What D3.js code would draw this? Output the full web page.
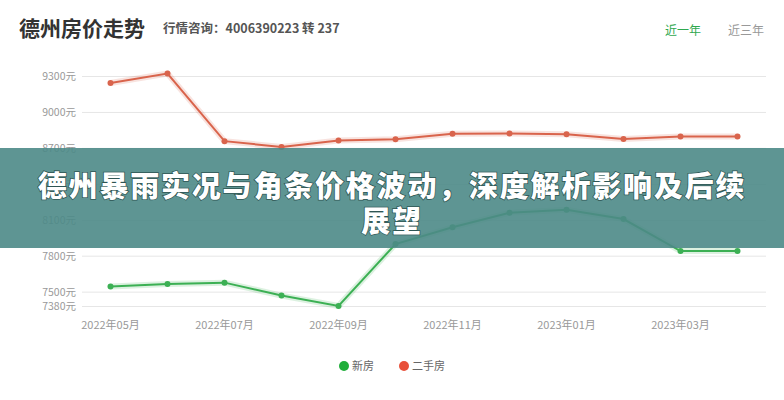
<!DOCTYPE html>
<html><head><meta charset="utf-8">
<script src="https://cdn.jsdelivr.net/npm/d3@7"></script>
<style>
html,body{margin:0;padding:0;background:#fff;}
svg{display:block;font-family:"Noto Sans CJK SC","Noto Sans",sans-serif;}
</style></head>
<body><svg id="c" width="784" height="400"></svg>
<script>
const months = ["2022年05月","2022年06月","2022年07月","2022年08月","2022年09月","2022年10月","2022年11月","2022年12月","2023年01月","2023年02月","2023年03月","2023年04月"];
const xTickLabels = ["2022年05月","2022年07月","2022年09月","2022年11月","2023年01月","2023年03月"];
const newHouse = [7542, 7564, 7575, 7467, 7381, 7897, 8037, 8158, 8183, 8106, 7839, 7839];
const secondHand = [9242, 9320, 8756, 8708, 8762, 8772, 8818, 8820, 8814, 8775, 8795, 8795];
const yTicks = [7380, 7500, 7800, 8100, 8400, 8700, 9000, 9300];
const seriesNames = ["新房", "二手房"];
const seriesColors = ["#3cb054", "#d9644c"];
const legendColors = ["#1fae3a", "#e8503a"];
const bannerLines = ["德州暴雨实况与角条价格波动，深度解析影响及后续", "展望"];

const svg = d3.select("#c");
const x = d3.scaleBand().domain(months).range([82, 766]);
const y = d3.scaleLinear().domain([7380, 9300]).range([306, 76]);

// title
svg.append("text").attr("x", 19).attr("y", 36).attr("font-size", 21).attr("font-weight", 700)
  .attr("fill", "#333").text("德州房价走势");
svg.append("text").attr("x", 163).attr("y", 33).attr("font-size", 12.5).attr("fill", "#555")
  .attr("font-weight", 600).text("行情咨询：4006390223 转 237");
svg.append("text").attr("x", 665).attr("y", 35).attr("font-size", 12).attr("fill", "#2fa84f").text("近一年");
svg.append("text").attr("x", 728).attr("y", 35).attr("font-size", 12).attr("fill", "#999").text("近三年");

// grid + y axis
const yAxis = d3.axisLeft(y).tickValues(yTicks).tickSize(-(766 - 82)).tickFormat(d => d + "元");
const gy = svg.append("g").attr("transform", "translate(82,0)").call(yAxis);
gy.select(".domain").remove();
gy.selectAll(".tick line").attr("stroke", "#e6e6e6");
gy.selectAll(".tick text").attr("fill", "#999").attr("font-size", 10.5).attr("x", -6)
  .attr("font-family", "'Noto Sans CJK SC',sans-serif");

// x axis
const xAxis = d3.axisBottom(x).tickValues(xTickLabels).tickSize(0);
const gx = svg.append("g").attr("transform", "translate(0,316)").call(xAxis);
gx.select(".domain").remove();
gx.selectAll(".tick text").attr("fill", "#999").attr("font-size", 11).attr("dy", "0.9em")
  .attr("font-family", "'Noto Sans CJK SC',sans-serif");

// lines
const cx = d => x(d) + x.bandwidth() / 2;
[newHouse, secondHand].forEach((vals, i) => {
  const line = d3.line().x((d, j) => cx(months[j])).y(d => y(d));
  svg.append("path").datum(vals).attr("d", line).attr("fill", "none")
    .attr("stroke", seriesColors[i]).attr("stroke-opacity", 0.18).attr("stroke-width", 6);
  svg.append("path").datum(vals).attr("d", line).attr("fill", "none")
    .attr("stroke", seriesColors[i]).attr("stroke-width", 2);
  svg.selectAll(null).data(vals).enter().append("circle")
    .attr("cx", (d, j) => cx(months[j])).attr("cy", d => y(d)).attr("r", 3)
    .attr("fill", seriesColors[i]);
});

// legend
const lg = svg.append("g");
const legX = [344, 404];
seriesNames.forEach((n, i) => {
  lg.append("circle").attr("cx", legX[i]).attr("cy", 366).attr("r", 5).attr("fill", legendColors[i]);
  lg.append("text").attr("x", legX[i] + 8).attr("y", 370).attr("font-size", 11).attr("fill", "#666").text(n);
});

// banner overlay
svg.append("rect").attr("x", 0).attr("y", 148).attr("width", 784).attr("height", 100)
  .attr("fill", "#4d8a87").attr("fill-opacity", 0.9);
bannerLines.forEach((t, i) => {
  svg.append("text").attr("x", 392).attr("y", 197 + i * 35).attr("text-anchor", "middle")
    .attr("font-size", 29).attr("font-weight", 900).attr("fill", "#fff")
    .attr("letter-spacing", 1.8)
    .style("paint-order", "stroke").attr("stroke", "#2e5553").attr("stroke-width", 1.5)
    .text(t);
});
</script></body></html>
